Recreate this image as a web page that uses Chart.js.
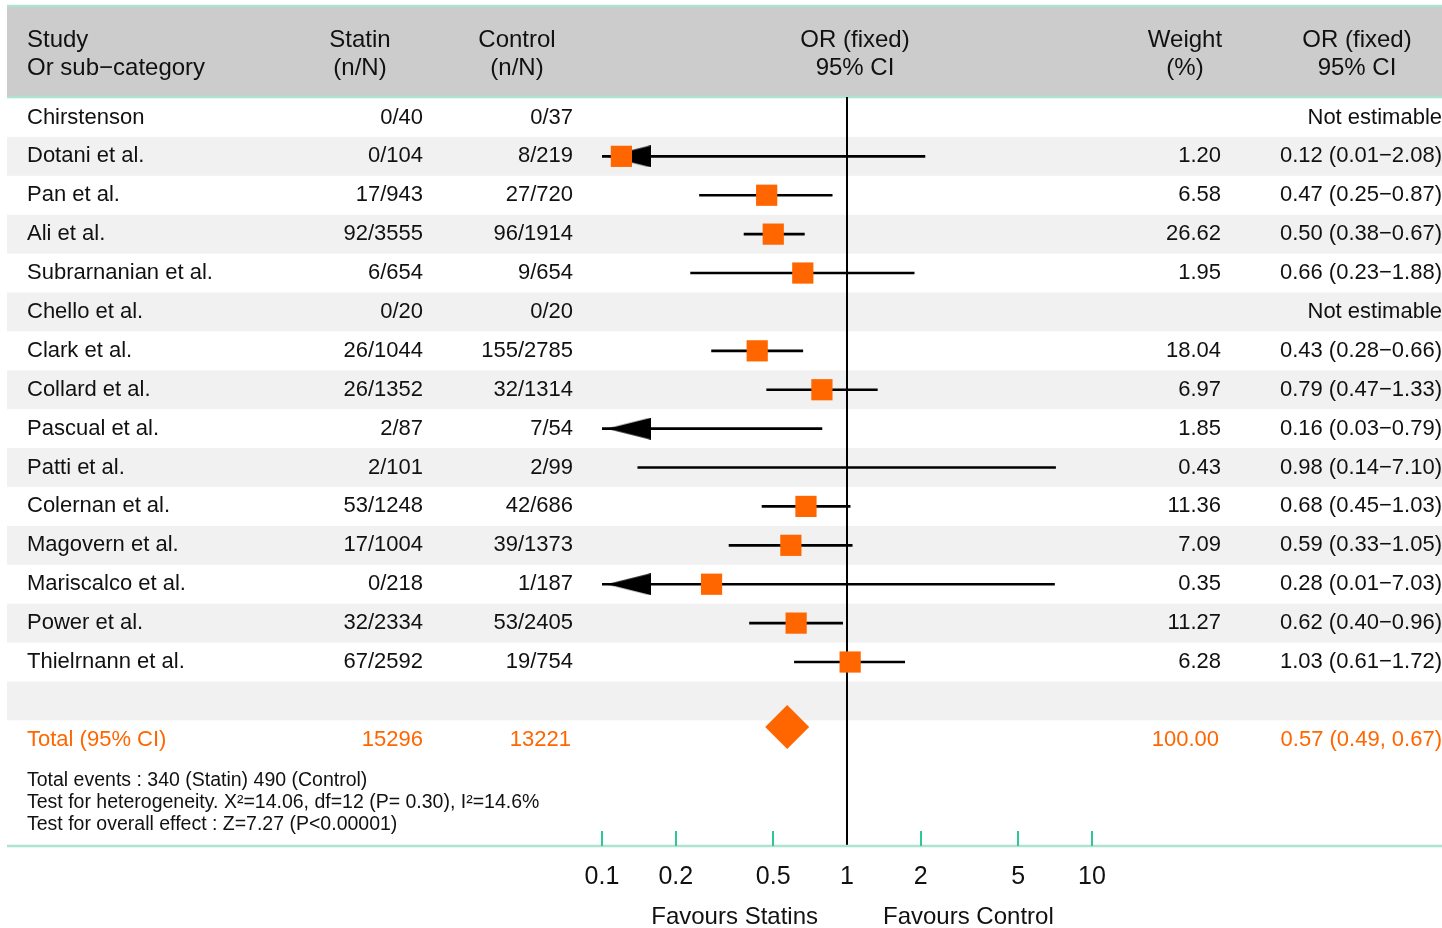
<!DOCTYPE html>
<html>
<head>
<meta charset="utf-8">
<title>Statin forest plot</title>
<script src="https://cdn.jsdelivr.net/npm/chart.js@4.4.1/dist/chart.umd.min.js"></script>
<style>
  html, body { margin: 0; padding: 0; background: #fff; }
  canvas { display: block; }
</style>
</head>
<body>
<canvas id="forest" width="1442" height="928"></canvas>
<script>
// ==========================================
// DATOS
// ==========================================
const studies = ['Chirstenson', 'Dotani et al.', 'Pan et al.', 'Ali et al.', 'Subrarnanian et al.',
  'Chello et al.', 'Clark et al.', 'Collard et al.', 'Pascual et al.', 'Patti et al.',
  'Colernan et al.', 'Magovern et al.', 'Mariscalco et al.', 'Power et al.', 'Thielrnann et al.'];
const statinEvents = ['0/40', '0/104', '17/943', '92/3555', '6/654', '0/20', '26/1044', '26/1352',
  '2/87', '2/101', '53/1248', '17/1004', '0/218', '32/2334', '67/2592'];
const controlEvents = ['0/37', '8/219', '27/720', '96/1914', '9/654', '0/20', '155/2785', '32/1314',
  '7/54', '2/99', '42/686', '39/1373', '1/187', '53/2405', '19/754'];
const weights = [null, 1.20, 6.58, 26.62, 1.95, null, 18.04, 6.97, 1.85, 0.43, 11.36, 7.09, 0.35, 11.27, 6.28];
const oddsRatio = [null, 0.12, 0.47, 0.50, 0.66, null, 0.43, 0.79, 0.16, 0.98, 0.68, 0.59, 0.28, 0.62, 1.03];
const ciLow = [null, 0.01, 0.25, 0.38, 0.23, null, 0.28, 0.47, 0.03, 0.14, 0.45, 0.33, 0.01, 0.40, 0.61];
const ciHigh = [null, 2.08, 0.87, 0.67, 1.88, null, 0.66, 1.33, 0.79, 7.10, 1.03, 1.05, 7.03, 0.96, 1.72];

const totalStatin = 15296;
const totalControl = 13221;
const totalOR = [0.57, 0.49, 0.67]; // OR, low, high

const tickValues = [0.1, 0.2, 0.5, 1, 2, 5, 10];
const tickLabels = ['0.1', '0.2', '0.5', '1', '2', '5', '10'];

const footnotes = [
  'Total events : 340 (Statin) 490 (Control)',
  'Test for heterogeneity. X\u00B2=14.06, df=12 (P= 0.30), I\u00B2=14.6%',
  'Test for overall effect : Z=7.27 (P<0.00001)'
];

// ==========================================
// ESTILO
// ==========================================
const FONT = '"Liberation Sans", Arial, sans-serif';
const ORANGE = '#ff6600';
const TEXT = '#111111';
const MINT = '#ade3d0';
const TICK_GREEN = '#2cc995';
const X_MIN = 0.1, X_MAX = 10;
const totalRow = studies.length + 1;      // fila en blanco + total
const sinCuadro = ['Pascual et al.', 'Patti et al.'];  // en la figura no llevan cuadro

const fmtCI = i => `${oddsRatio[i].toFixed(2)} (${ciLow[i].toFixed(2)}\u2212${ciHigh[i].toFixed(2)})`;

// punta de flecha para IC recortados a la izquierda
function crearFlecha() {
  const c = document.createElement('canvas');
  c.width = 100; c.height = 22;
  const g = c.getContext('2d');
  g.fillStyle = '#000';
  g.beginPath();
  g.moveTo(55, 11);
  g.lineTo(99, 0);
  g.lineTo(99, 22);
  g.closePath();
  g.fill();
  return c;
}

// ==========================================
// DATASETS
// ==========================================
const filas = studies.map((s, i) => i).filter(i => oddsRatio[i] != null);

const lineasIC = filas.map(i => ({ x: [ciLow[i], ciHigh[i]], y: i }));
const cuadros = filas.map(i => ({ x: oddsRatio[i], y: i, name: studies[i] }));
const flechas = filas.filter(i => ciLow[i] < X_MIN).map(i => ({ x: X_MIN, y: i }));

// ==========================================
// TABLA (plugin)
// ==========================================
function texto(ctx, str, x, y, align, color, size) {
  ctx.font = `${size || 22}px ${FONT}`;
  ctx.fillStyle = color || TEXT;
  ctx.textAlign = align || 'left';
  ctx.textBaseline = 'middle';
  ctx.fillText(str, x, y);
}

const tablaPlugin = {
  id: 'tabla',
  beforeDraw(chart) {
    const { ctx, scales: { y } } = chart;
    ctx.save();
    ctx.fillStyle = '#fff';
    ctx.fillRect(0, 0, chart.width, chart.height);

    // cabecera gris
    ctx.fillStyle = '#cccccc';
    ctx.fillRect(7, 7, 1435, 90);
    ctx.strokeStyle = MINT;
    ctx.lineWidth = 2.5;
    [6, 97].forEach(yy => {
      ctx.beginPath(); ctx.moveTo(7, yy); ctx.lineTo(1442, yy); ctx.stroke();
    });

    // filas alternas
    ctx.fillStyle = '#f1f1f1';
    for (let i = 1; i <= totalRow; i += 2) {
      const t = y.getPixelForValue(i - 0.5);
      const b = y.getPixelForValue(i + 0.5);
      ctx.fillRect(7, t, 1435, b - t);
    }
    ctx.restore();
  },
  beforeDatasetsDraw(chart) {
    const { ctx, chartArea, scales: { x } } = chart;
    const x1 = Math.round(x.getPixelForValue(1));
    ctx.save();
    ctx.strokeStyle = '#000';
    ctx.lineWidth = 2;
    ctx.beginPath();
    ctx.moveTo(x1, chartArea.top - 1);
    ctx.lineTo(x1, chartArea.bottom);
    ctx.stroke();
    ctx.restore();
  },
  afterDraw(chart) {
    const { ctx, chartArea, scales: { x, y } } = chart;
    ctx.save();

    // cabecera
    const H = 24;
    texto(ctx, 'Study', 27, 40, 'left', TEXT, H);
    texto(ctx, 'Or sub\u2212category', 27, 68, 'left', TEXT, H);
    texto(ctx, 'Statin', 360, 40, 'center', TEXT, H);
    texto(ctx, '(n/N)', 360, 68, 'center', TEXT, H);
    texto(ctx, 'Control', 517, 40, 'center', TEXT, H);
    texto(ctx, '(n/N)', 517, 68, 'center', TEXT, H);
    texto(ctx, 'OR (fixed)', 855, 40, 'center', TEXT, H);
    texto(ctx, '95% CI', 855, 68, 'center', TEXT, H);
    texto(ctx, 'Weight', 1185, 40, 'center', TEXT, H);
    texto(ctx, '(%)', 1185, 68, 'center', TEXT, H);
    texto(ctx, 'OR (fixed)', 1357, 40, 'center', TEXT, H);
    texto(ctx, '95% CI', 1357, 68, 'center', TEXT, H);

    // estudios
    studies.forEach((s, i) => {
      const yy = y.getPixelForValue(i);
      texto(ctx, s, 27, yy, 'left');
      texto(ctx, statinEvents[i], 423, yy, 'right');
      texto(ctx, controlEvents[i], 573, yy, 'right');
      if (oddsRatio[i] == null) {
        texto(ctx, 'Not estimable', 1442, yy, 'right');
      } else {
        texto(ctx, weights[i].toFixed(2), 1221, yy, 'right');
        texto(ctx, fmtCI(i), 1442, yy, 'right');
      }
    });

    // total
    const yt = y.getPixelForValue(totalRow);
    texto(ctx, 'Total (95% CI)', 27, yt, 'left', ORANGE);
    texto(ctx, String(totalStatin), 423, yt, 'right', ORANGE);
    texto(ctx, String(totalControl), 571, yt, 'right', ORANGE);
    texto(ctx, '100.00', 1219, yt, 'right', ORANGE);
    texto(ctx, `${totalOR[0].toFixed(2)} (${totalOR[1].toFixed(2)}, ${totalOR[2].toFixed(2)})`, 1442, yt, 'right', ORANGE);

    footnotes.forEach((f, k) => texto(ctx, f, 27, yt + 41 + k * 22, 'left', TEXT, 19.5));

    // eje inferior
    const yb = chartArea.bottom;
    ctx.strokeStyle = MINT;
    ctx.lineWidth = 2.5;
    ctx.beginPath(); ctx.moveTo(7, yb); ctx.lineTo(1442, yb); ctx.stroke();
    ctx.strokeStyle = TICK_GREEN;
    ctx.lineWidth = 2;
    tickValues.forEach(v => {
      if (v === 1) return;
      const px = Math.round(x.getPixelForValue(v));
      ctx.beginPath(); ctx.moveTo(px, yb - 15); ctx.lineTo(px, yb); ctx.stroke();
    });

    const x1 = x.getPixelForValue(1);
    texto(ctx, 'Favours Statins', x1 - 29, 917, 'right', TEXT, 24);
    texto(ctx, 'Favours Control', x1 + 36, 917, 'left', TEXT, 24);
    ctx.restore();
  }
};

// ==========================================
// GRÁFICA
// ==========================================
const ctx = document.getElementById('forest').getContext('2d');
new Chart(ctx, {
  type: 'bar',
  data: {
    datasets: [
      {
        type: 'bar',
        data: lineasIC,
        indexAxis: 'y',
        backgroundColor: '#000',
        barThickness: 2,
        order: 3
      },
      {
        type: 'scatter',
        data: flechas,
        pointStyle: crearFlecha(),
        order: 2
      },
      {
        type: 'scatter',
        data: cuadros,
        pointStyle: 'rect',
        pointRadius: c => (c.raw && sinCuadro.includes(c.raw.name)) ? 0 : 15,
        backgroundColor: ORANGE,
        borderWidth: 0,
        order: 1
      },
      {
        type: 'scatter',
        data: [{ x: totalOR[0], y: totalRow - 0.33 }],
        pointStyle: 'rectRot',
        pointRadius: 22,
        backgroundColor: ORANGE,
        borderWidth: 0,
        order: 0
      }
    ]
  },
  options: {
    responsive: false,
    animation: false,
    events: [],
    layout: { padding: { left: 602, right: 350, top: 98, bottom: 0 } },
    plugins: { legend: { display: false }, tooltip: { enabled: false } },
    scales: {
      x: {
        type: 'logarithmic',
        position: 'bottom',
        offset: false,
        min: X_MIN,
        max: X_MAX,
        grid: { display: false, drawTicks: false, offset: false },
        border: { display: false },
        afterBuildTicks: s => { s.ticks = tickValues.map(v => ({ value: v })); },
        afterFit: s => { s.height = 82; },
        ticks: {
          autoSkip: false,
          maxRotation: 0,
          padding: 16,
          color: TEXT,
          font: { family: FONT, size: 25 },
          callback: v => tickLabels[tickValues.indexOf(v)]
        }
      },
      y: {
        type: 'linear',
        offset: false,
        grid: { offset: false },
        min: -0.5,
        max: 18.73,
        reverse: true,
        display: false
      }
    }
  },
  plugins: [tablaPlugin]
});
</script>
</body>
</html>
